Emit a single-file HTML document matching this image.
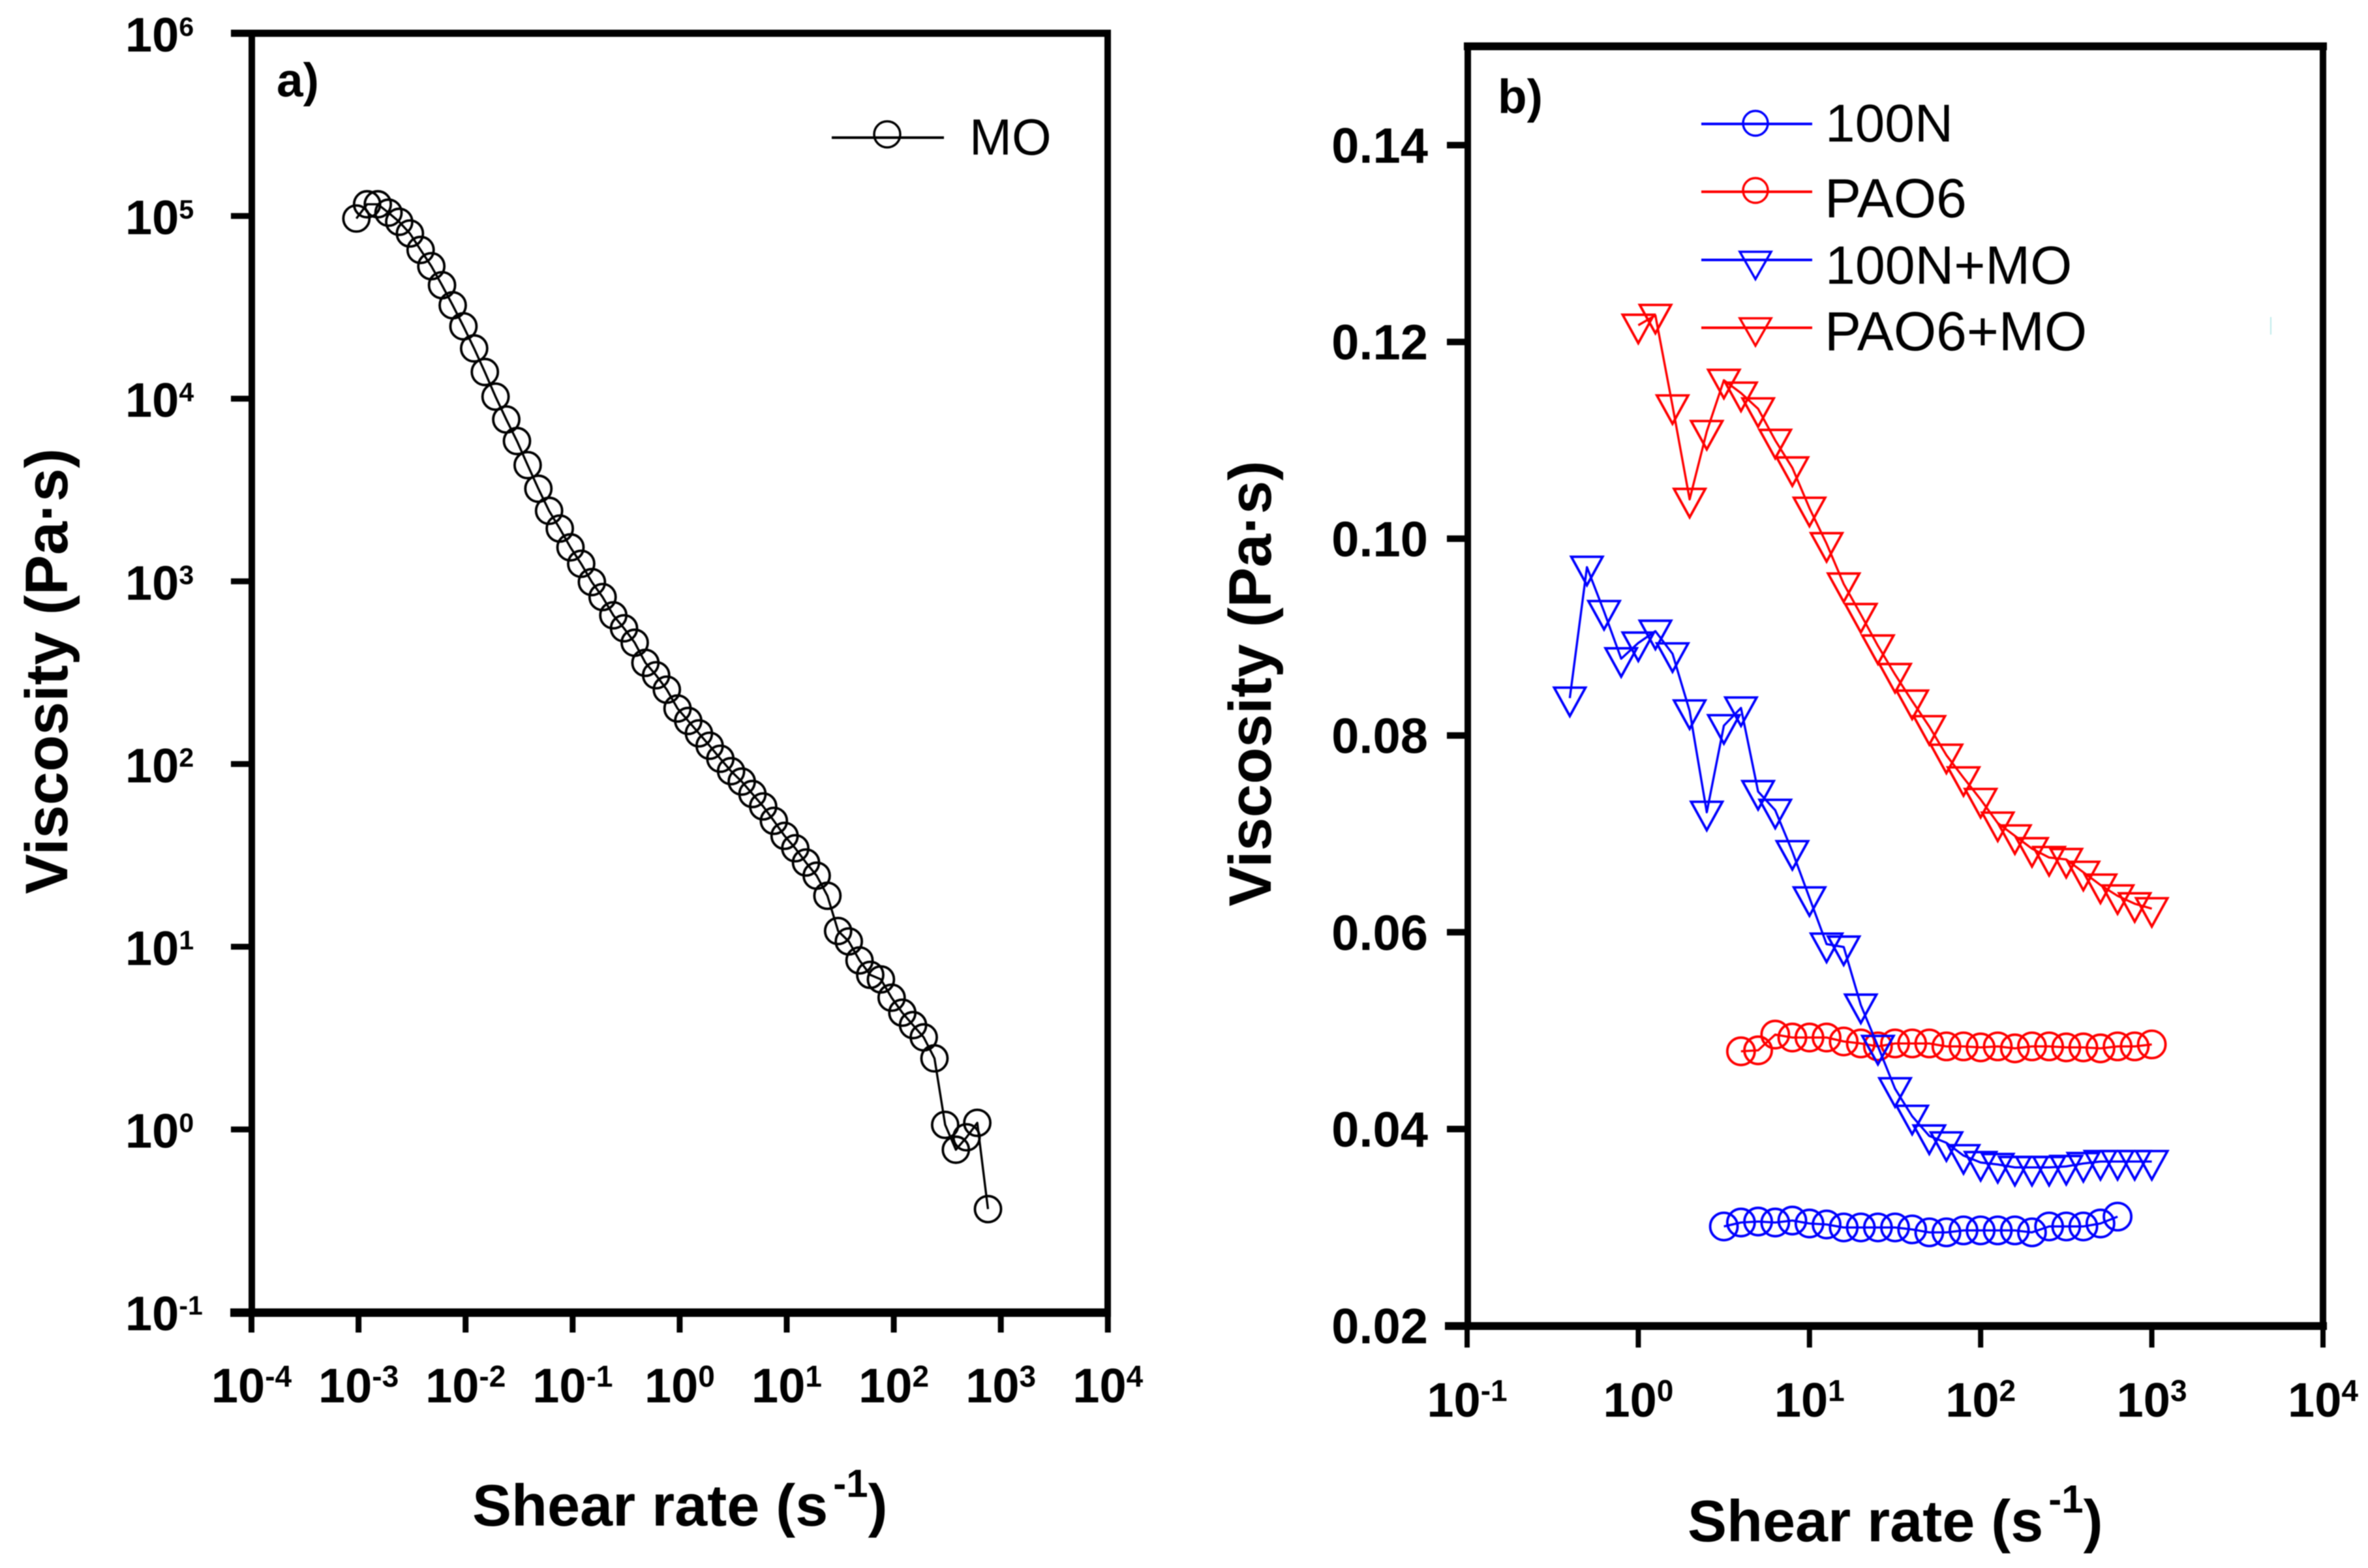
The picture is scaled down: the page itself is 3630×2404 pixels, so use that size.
<!DOCTYPE html>
<html lang="en">
<head>
<meta charset="utf-8">
<title>Viscosity vs shear rate</title>
<style>
html,body{margin:0;padding:0;background:#fff;}
svg{display:block;filter:blur(0.8px);}
text{font-family:"Liberation Sans",Arial,sans-serif;fill:#000;}
.b{font-weight:bold;}
</style>
</head>
<body>
<svg id="chart" xmlns="http://www.w3.org/2000/svg" width="3630" height="2404" viewBox="0 0 3630 2404">
  <rect x="0" y="0" width="3630" height="2404" fill="#fff"/>

  <g id="panel-a">
    <g id="a-series"></g>
    <g id="a-ticks"></g>
    <line x1="354" y1="51" x2="1703" y2="51" stroke="#000" stroke-width="11"/>
    <line x1="353" y1="2012.5" x2="1703" y2="2012.5" stroke="#000" stroke-width="13"/>
    <line x1="386" y1="46" x2="386" y2="2019" stroke="#000" stroke-width="10"/>
    <line x1="1698" y1="46" x2="1698" y2="2019" stroke="#000" stroke-width="10"/>
    <text class="b" x="424" y="148" font-size="73">a)</text>
    <text class="b" font-size="92" text-anchor="middle" transform="translate(103 1029) rotate(-90)">Viscosity (Pa·s)</text>
    <text class="b" font-size="90" x="724" y="2339">Shear rate (s<tspan font-size="60" dy="-44" dx="8">-1</tspan><tspan font-size="90" dy="44">)</tspan></text>
    <g>
      <line x1="1275" y1="211" x2="1447" y2="211" stroke="#000" stroke-width="4"/>
      <circle cx="1360" cy="206" r="20" fill="none" stroke="#000" stroke-width="3.5"/>
      <text x="1486" y="237" font-size="78">MO</text>
    </g>
  </g>

  <g id="panel-b">
    <g id="b-series"></g>
    <g id="b-ticks"></g>
    <line x1="2244" y1="71" x2="3567" y2="71" stroke="#000" stroke-width="12"/>
    <line x1="2215" y1="2033" x2="3567" y2="2033" stroke="#000" stroke-width="12"/>
    <line x1="2250" y1="66" x2="2250" y2="2039" stroke="#000" stroke-width="10"/>
    <line x1="3561" y1="66" x2="3561" y2="2039" stroke="#000" stroke-width="10"/>
    <text class="b" x="2296" y="173" font-size="73">b)</text>
    <text class="b" font-size="92" text-anchor="middle" transform="translate(1948 1048) rotate(-90)">Viscosity (Pa·s)</text>
    <text class="b" font-size="90" x="2587" y="2363">Shear rate (s<tspan font-size="60" dy="-44" dx="8">-1</tspan><tspan font-size="90" dy="44">)</tspan></text>
    <g>
      <line x1="2608" y1="190" x2="2778" y2="190" stroke="#0000ff" stroke-width="4"/>
      <circle cx="2691" cy="189" r="19" fill="none" stroke="#0000ff" stroke-width="3.5"/>
      <text x="2798" y="217" font-size="82">100N</text>
    </g>
    <g>
      <line x1="2608" y1="294" x2="2778" y2="294" stroke="#ff0000" stroke-width="4"/>
      <circle cx="2691" cy="292" r="19" fill="none" stroke="#ff0000" stroke-width="3.5"/>
      <text x="2797" y="333" font-size="84">PAO6</text>
    </g>
    <g>
      <line x1="2608" y1="398.5" x2="2778" y2="398.5" stroke="#0000ff" stroke-width="4"/>
      <polygon points="2667,386 2715,386 2691,428" fill="none" stroke="#0000ff" stroke-width="3.5"/>
      <text x="2798" y="435" font-size="82.5">100N+MO</text>
    </g>
    <g>
      <line x1="2608" y1="502.5" x2="2778" y2="502.5" stroke="#ff0000" stroke-width="4"/>
      <polygon points="2667,488 2715,488 2691,530" fill="none" stroke="#ff0000" stroke-width="3.5"/>
      <text x="2797" y="537" font-size="84">PAO6+MO</text>
    </g>
    <rect x="3480" y="486" width="2" height="27" fill="#bfeaea"/>
  </g>
</svg>

<script>
// Panel a: MO, values given as log10(shear rate) and log10(viscosity)
const moLogShear = [-3.02,-2.92,-2.82,-2.72,-2.62,-2.52,-2.42,-2.32,-2.22,-2.12,-2.02,-1.92,-1.82,-1.72,-1.62,-1.52,-1.42,-1.32,-1.22,-1.12,-1.02,-0.92,-0.82,-0.72,-0.62,-0.52,-0.42,-0.32,-0.22,-0.12,-0.02,0.08,0.18,0.28,0.38,0.48,0.58,0.68,0.78,0.88,0.98,1.08,1.18,1.28,1.38,1.48,1.58,1.68,1.78,1.88,1.98,2.08,2.18,2.28,2.38,2.48,2.58,2.68,2.78,2.88];
const moLogViscosity = [4.986,5.064,5.064,5.018,4.968,4.904,4.814,4.725,4.621,4.511,4.396,4.275,4.146,4.011,3.886,3.768,3.636,3.507,3.386,3.289,3.186,3.096,2.996,2.914,2.814,2.743,2.664,2.554,2.486,2.407,2.304,2.236,2.168,2.100,2.029,1.961,1.904,1.836,1.768,1.689,1.607,1.539,1.461,1.389,1.279,1.086,1.029,0.925,0.846,0.821,0.721,0.639,0.571,0.504,0.389,0.025,-0.111,-0.043,0.036,-0.436];
const aXTickExponents = [-4,-3,-2,-1,0,1,2,3,4];
const aYTickExponents = [6,5,4,3,2,1,0,-1];

// Panel b: x values as log10(shear rate), y values as viscosity in Pa·s
const n100LogShear = [0.5,0.6,0.7,0.8,0.9,1.0,1.1,1.2,1.3,1.4,1.5,1.6,1.7,1.8,1.9,2.0,2.1,2.2,2.3,2.4,2.5,2.6,2.7,2.8];
const n100Viscosity = [0.0301,0.0305,0.0306,0.0305,0.0307,0.0304,0.0303,0.0300,0.0300,0.0300,0.0300,0.0298,0.0295,0.0295,0.0297,0.0297,0.0297,0.0297,0.0295,0.0301,0.0301,0.0301,0.0304,0.0311];
const pao6LogShear = [0.6,0.7,0.8,0.9,1.0,1.1,1.2,1.3,1.4,1.5,1.6,1.7,1.8,1.9,2.0,2.1,2.2,2.3,2.4,2.5,2.6,2.7,2.8,2.9,3.0];
const pao6Viscosity = [0.0479,0.0480,0.0496,0.0493,0.0493,0.0493,0.0489,0.0487,0.0484,0.0487,0.0487,0.0487,0.0484,0.0484,0.0483,0.0484,0.0482,0.0484,0.0484,0.0483,0.0483,0.0482,0.0484,0.0484,0.0486];
const n100MoLogShear = [-0.4,-0.3,-0.2,-0.1,0.0,0.1,0.2,0.3,0.4,0.5,0.6,0.7,0.8,0.9,1.0,1.1,1.2,1.3,1.4,1.5,1.6,1.7,1.8,1.9,2.0,2.1,2.2,2.3,2.4,2.5,2.6,2.7,2.8,2.9,3.0];
const n100MoViscosity = [0.0838,0.0971,0.0926,0.0878,0.0894,0.0906,0.0883,0.0825,0.0722,0.0810,0.0828,0.0743,0.0724,0.0682,0.0635,0.0588,0.0585,0.0526,0.0484,0.0441,0.0413,0.0393,0.0386,0.0373,0.0366,0.0364,0.0361,0.0361,0.0361,0.0362,0.0365,0.0367,0.0367,0.0367,0.0367];
const pao6MoLogShear = [0.0,0.1,0.2,0.3,0.4,0.5,0.6,0.7,0.8,0.9,1.0,1.1,1.2,1.3,1.4,1.5,1.6,1.7,1.8,1.9,2.0,2.1,2.2,2.3,2.4,2.5,2.6,2.7,2.8,2.9,3.0];
const pao6MoViscosity = [0.1217,0.1227,0.1135,0.1040,0.1109,0.1161,0.1148,0.1132,0.1100,0.1072,0.1031,0.0995,0.0954,0.0923,0.0891,0.0862,0.0835,0.0809,0.0780,0.0757,0.0735,0.0711,0.0698,0.0685,0.0676,0.0674,0.0661,0.0648,0.0637,0.0629,0.0624];
const bXTickExponents = [-1,0,1,2,3,4];
const bYTickValues = [0.02,0.04,0.06,0.08,0.10,0.12,0.14];
const bYTickLabels = ["0.02","0.04","0.06","0.08","0.10","0.12","0.14"];

const NS = "http://www.w3.org/2000/svg";
function xA(e){ return 385.5 + (e + 4) * 164.1; }
function yA(e){ return 51 + (6 - e) * 280.1; }
function xB(e){ return 2249 + (e + 1) * 262.4; }
function yB(v){ return 2032.7 - (v - 0.02) * 15085; }

function make(tag, attrs, parent){
  const el = document.createElementNS(NS, tag);
  for (const k in attrs) el.setAttribute(k, attrs[k]);
  parent.appendChild(el);
  return el;
}

function drawSeries(parent, name, xs, ys, sx, sy, color, kind, radius){
  const pts = xs.map((x, i) => sx(x).toFixed(1) + "," + sy(ys[i]).toFixed(1)).join(" ");
  const line = make("polyline", {points: pts, fill: "none", stroke: color, "stroke-width": 3.4, "stroke-linejoin": "round"}, parent);
  
  
  xs.forEach((x, i) => {
    const cx = sx(x), cy = sy(ys[i]);
    let m;
    if (kind === "circle") {
      m = make("circle", {cx: cx, cy: cy, r: radius, fill: "none", stroke: color, "stroke-width": 3.8}, parent);
    } else {
      const p = (cx - 24) + "," + (cy - 16) + " " + (cx + 24) + "," + (cy - 16) + " " + cx + "," + (cy + 27.5);
      m = make("polygon", {points: p, fill: "none", stroke: color, "stroke-width": 3.8}, parent);
    }
    
    
  });
}

function powerLabel(parent, exponent, x, y, anchor, size, supSize, raise){
  const t = make("text", {x: x, y: y, "text-anchor": anchor, "font-size": size, "class": "b"}, parent);
  t.appendChild(document.createTextNode("10"));
  const s = make("tspan", {"font-size": supSize, dy: -raise}, t);
  s.textContent = String(exponent);
  return t;
}

const aSeries = document.getElementById("a-series");
const aTicks = document.getElementById("a-ticks");
const bSeries = document.getElementById("b-series");
const bTicks = document.getElementById("b-ticks");

drawSeries(aSeries, "mo", moLogShear, moLogViscosity, xA, yA, "#000", "circle", 20);
drawSeries(bSeries, "100n", n100LogShear, n100Viscosity, xB, yB, "#0000ff", "circle", 21);
drawSeries(bSeries, "pao6", pao6LogShear, pao6Viscosity, xB, yB, "#ff0000", "circle", 21);
drawSeries(bSeries, "pao6-mo", pao6MoLogShear, pao6MoViscosity, xB, yB, "#ff0000", "triangle");
drawSeries(bSeries, "100n-mo", n100MoLogShear, n100MoViscosity, xB, yB, "#0000ff", "triangle");

aXTickExponents.forEach(e => {
  const tick = make("line", {x1: xA(e), y1: 2012, x2: xA(e), y2: 2043, stroke: "#000", "stroke-width": 9}, aTicks);
  
  
  const label = powerLabel(aTicks, e, xA(e), 2150, "middle", 74, 46, 24);
  
  
});
aYTickExponents.forEach(e => {
  const tick = make("line", {x1: 354, y1: yA(e), x2: 386, y2: yA(e), stroke: "#000", "stroke-width": 9}, aTicks);
  
  
  const label = powerLabel(aTicks, e, 192, yA(e) + 28, "start", 74, 41, 24);
  
  
});
bXTickExponents.forEach(e => {
  const tick = make("line", {x1: xB(e), y1: 2033, x2: xB(e), y2: 2066, stroke: "#000", "stroke-width": 8}, bTicks);
  
  
  const label = powerLabel(bTicks, e, xB(e), 2172, "middle", 74, 46, 24);
  
  
});
bYTickValues.forEach((v, i) => {
  const tick = make("line", {x1: 2218, y1: yB(v), x2: 2250, y2: yB(v), stroke: "#000", "stroke-width": 10}, bTicks);
  
  
  const label = make("text", {x: 2189, y: yB(v) + 27, "text-anchor": "end", "font-size": 76, "class": "b"}, bTicks);
  label.textContent = bYTickLabels[i];
  
  
});
</script>
</body>
</html>
